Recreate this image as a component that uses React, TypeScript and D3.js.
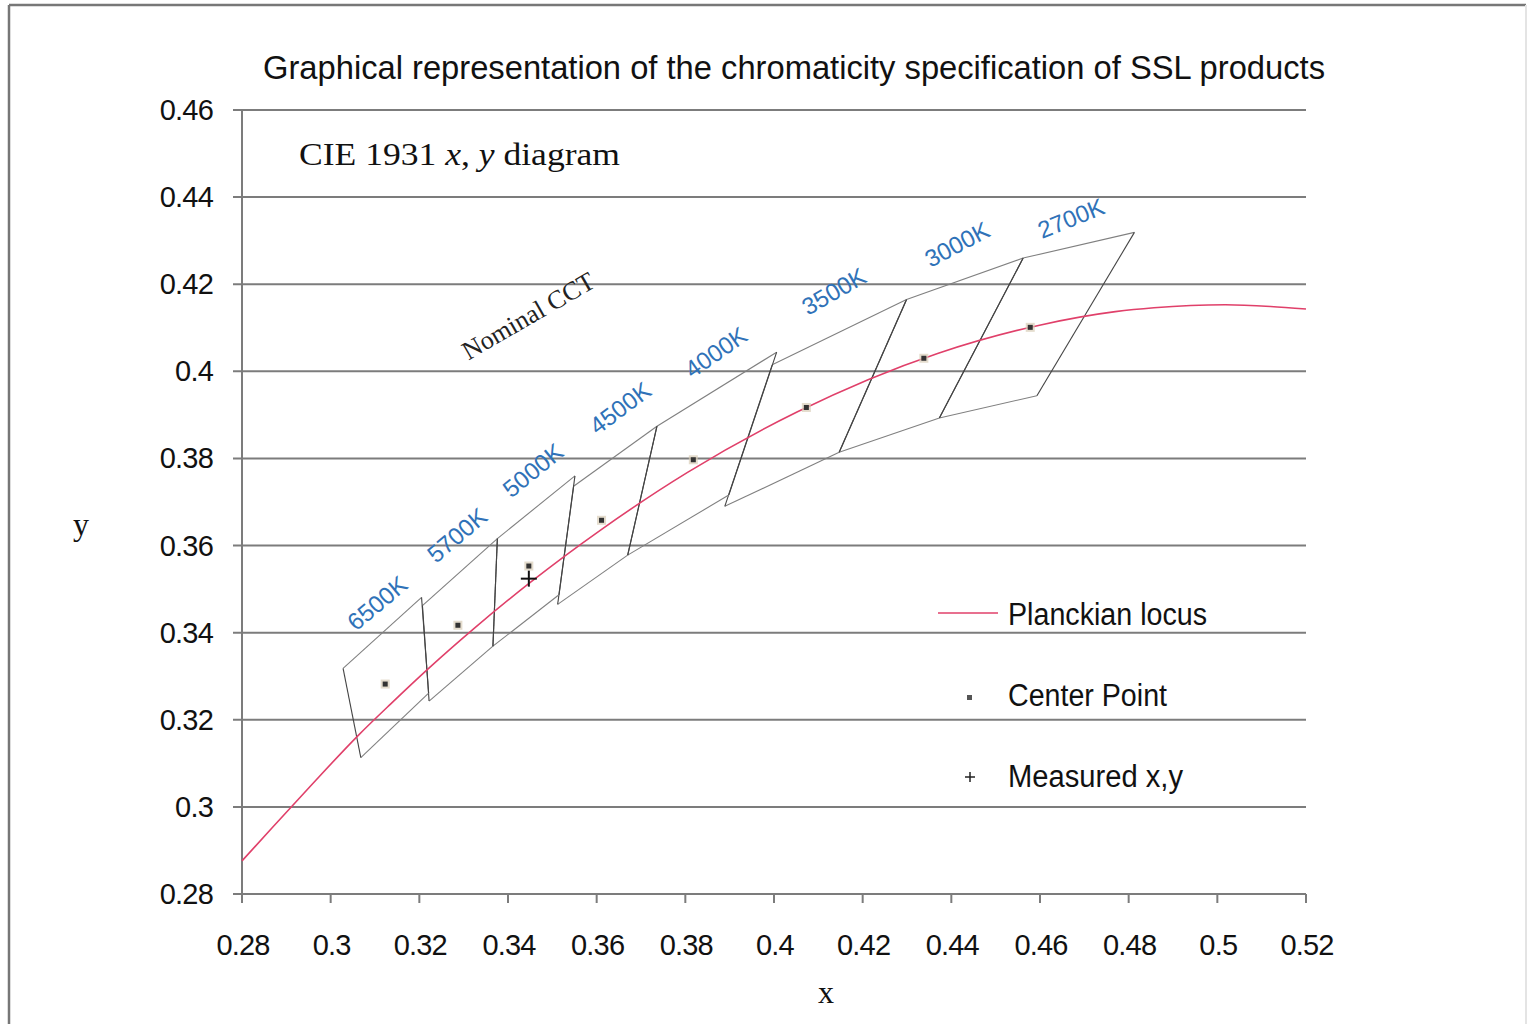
import React, { useEffect } from "react";
import * as d3 from "d3";

// ---- data ----
const xTicks = [0.28, 0.3, 0.32, 0.34, 0.36, 0.38, 0.4, 0.42, 0.44, 0.46, 0.48, 0.5, 0.52];
const yTicks = [0.28, 0.3, 0.32, 0.34, 0.36, 0.38, 0.4, 0.42, 0.44, 0.46];

// Planckian locus points (x, y)
const locusX = [0.28, 0.2867, 0.2951, 0.3064, 0.3135, 0.3221, 0.3325, 0.3451, 0.3608, 0.3805, 0.4053, 0.4369, 0.4599, 0.477, 0.4857, 0.5018, 0.512, 0.52];
const locusY = [0.2876, 0.2951, 0.3044, 0.3166, 0.3236, 0.3318, 0.3411, 0.3516, 0.3635, 0.3768, 0.3907, 0.4041, 0.4106, 0.4137, 0.4146, 0.4153, 0.4149, 0.4143];

// Nominal CCT quadrangles (corners: top-right, top-left, bottom-left, bottom-right)
const cctNames = ["2700K", "3000K", "3500K", "4000K", "4500K", "5000K", "5700K", "6500K"];
const quadX = [
  [0.4813, 0.4562, 0.4373, 0.4593],
  [0.4562, 0.4299, 0.4147, 0.4373],
  [0.4299, 0.3996, 0.3889, 0.4147],
  [0.4006, 0.3736, 0.367, 0.3898],
  [0.3736, 0.3548, 0.3512, 0.367],
  [0.3551, 0.3376, 0.3366, 0.3515],
  [0.3376, 0.3207, 0.3222, 0.3366],
  [0.3205, 0.3028, 0.3068, 0.3221],
];
const quadY = [
  [0.4319, 0.426, 0.3893, 0.3944],
  [0.426, 0.4165, 0.3814, 0.3893],
  [0.4165, 0.4015, 0.369, 0.3814],
  [0.4044, 0.3874, 0.3578, 0.3716],
  [0.3874, 0.3736, 0.3465, 0.3578],
  [0.376, 0.3616, 0.3369, 0.3487],
  [0.3616, 0.3462, 0.3243, 0.3369],
  [0.3481, 0.3318, 0.3113, 0.3261],
];
const centerX = [0.4578, 0.4338, 0.4073, 0.3818, 0.3611, 0.3447, 0.3287, 0.3123];
const centerY = [0.4101, 0.403, 0.3917, 0.3797, 0.3658, 0.3553, 0.3417, 0.3282];

const measuredX = [0.3447];
const measuredY = [0.3524];

// label annotations (data coords + rotation)
const cctLabelX = [0.467, 0.4413, 0.4135, 0.3869, 0.3653, 0.3456, 0.3285, 0.3105];
const cctLabelY = [0.4352, 0.4292, 0.4184, 0.4044, 0.3916, 0.3773, 0.3624, 0.3468];
const cctLabelAngle = [-22, -28, -30, -35, -37, -39, -40, -40];

const SANS = "'Liberation Sans', Arial, Helvetica, sans-serif";
const SERIF = "'Liberation Serif', 'Times New Roman', serif";

export default function App() {
  useEffect(() => {
    document.body.style.margin = "0";
    document.body.style.background = "#fff";
  }, []);

  const W = 1532;
  const H = 1024;
  const x = d3.scaleLinear().domain([0.28, 0.52]).range([242, 1306]);
  const y = d3.scaleLinear().domain([0.28, 0.46]).range([894, 110]);

  const locus = locusX.map((v, i) => [v, locusY[i]] as [number, number]);
  const line = d3
    .line<[number, number]>()
    .x((d) => x(d[0]))
    .y((d) => y(d[1]))
    .curve(d3.curveMonotoneX);

  const gridColor = "#7c7c7c";

  return (
    <svg width={W} height={H} style={{ display: "block" }} xmlns="http://www.w3.org/2000/svg">
      <rect x={0} y={0} width={W} height={H} fill="#fff" />
      {/* outer frame */}
      <line x1={9} y1={5} x2={1526} y2={5} stroke="#777" strokeWidth={2.5} />
      <line x1={9} y1={5} x2={9} y2={1024} stroke="#777" strokeWidth={2.5} />
      <line x1={1526} y1={5} x2={1526} y2={1024} stroke="#e4e4e4" strokeWidth={2} />

      {/* title */}
      <text
        x={263}
        y={79}
        fontFamily={SANS}
        fontSize={33}
        fill="#111"
        textLength={1062}
        lengthAdjust="spacingAndGlyphs"
      >
        Graphical representation of the chromaticity specification of SSL products
      </text>

      {/* gridlines */}
      {yTicks.map((t) => (
        <line
          key={"g" + t}
          x1={233}
          x2={1306}
          y1={y(t)}
          y2={y(t)}
          stroke={gridColor}
          strokeWidth={2}
        />
      ))}
      {/* y axis */}
      <line x1={242} x2={242} y1={y(0.46)} y2={y(0.28)} stroke={gridColor} strokeWidth={2} />
      {/* x ticks */}
      {xTicks.map((t) => (
        <line key={"xt" + t} x1={x(t)} x2={x(t)} y1={y(0.28)} y2={y(0.28) + 9} stroke={gridColor} strokeWidth={2} />
      ))}
      {/* y tick labels */}
      {yTicks.map((t) => (
        <text
          key={"yl" + t}
          x={213}
          y={y(t) + 10}
          textAnchor="end"
          fontFamily={SANS}
          fontSize={29}
          letterSpacing={-0.8}
          fill="#111"
        >
          {String(t)}
        </text>
      ))}
      {/* x tick labels */}
      {xTicks.map((t) => (
        <text
          key={"xl" + t}
          x={x(t) + 1}
          y={955}
          textAnchor="middle"
          fontFamily={SANS}
          fontSize={29}
          letterSpacing={-0.8}
          fill="#111"
        >
          {String(t)}
        </text>
      ))}
      {/* axis titles */}
      <text x={826} y={1003} textAnchor="middle" fontFamily={SERIF} fontSize={32} fill="#111">
        x
      </text>
      <text x={81} y={535} textAnchor="middle" fontFamily={SERIF} fontSize={32} fill="#111">
        y
      </text>

      {/* diagram label */}
      <text x={299} y={165} fontFamily={SERIF} fontSize={31} fill="#111" textLength={321} lengthAdjust="spacingAndGlyphs">
        CIE 1931 <tspan fontStyle="italic">x</tspan>, <tspan fontStyle="italic">y</tspan> diagram
      </text>

      {/* quadrangles */}
      {quadX.map((qx, i) => {
        const p = qx.map((v, j) => [x(v), y(quadY[i][j])]);
        return (
          <g key={"q" + i} fill="none" strokeWidth={1.1}>
            <line x1={p[0][0]} y1={p[0][1]} x2={p[1][0]} y2={p[1][1]} stroke="#808080" />
            <line x1={p[2][0]} y1={p[2][1]} x2={p[3][0]} y2={p[3][1]} stroke="#808080" />
            <line x1={p[1][0]} y1={p[1][1]} x2={p[2][0]} y2={p[2][1]} stroke="#444" />
            <line x1={p[3][0]} y1={p[3][1]} x2={p[0][0]} y2={p[0][1]} stroke="#444" />
          </g>
        );
      })}

      {/* Planckian locus */}
      <path d={line(locus) || ""} fill="none" stroke="#e0406a" strokeWidth={1.6} />

      {/* center points */}
      {centerX.map((v, i) => (
        <g key={"c" + i}>
          <rect x={x(v) - 4.5} y={y(centerY[i]) - 4.5} width={9} height={9} fill="#d8cdb8" opacity={0.7} />
          <rect x={x(v) - 2.5} y={y(centerY[i]) - 2.5} width={5} height={5} fill="#333" />
        </g>
      ))}

      {/* measured */}
      {measuredX.map((v, i) => (
        <g key={"m" + i} stroke="#111" strokeWidth={2}>
          <line x1={x(v) - 8} x2={x(v) + 8} y1={y(measuredY[i])} y2={y(measuredY[i])} />
          <line x1={x(v)} x2={x(v)} y1={y(measuredY[i]) - 8} y2={y(measuredY[i]) + 8} />
        </g>
      ))}

      {/* CCT labels */}
      {cctNames.map((n, i) => {
        const px = x(cctLabelX[i]);
        const py = y(cctLabelY[i]);
        return (
          <text
            key={"l" + n}
            x={px}
            y={py}
            transform={`rotate(${cctLabelAngle[i]},${px},${py})`}
            textAnchor="middle"
            dominantBaseline="central"
            fontFamily={SANS}
            fontSize={24}
            fill="#2f72b8"
          >
            {n}
          </text>
        );
      })}

      {/* Nominal CCT */}
      <text
        x={x(0.3446)}
        y={y(0.4127)}
        transform={`rotate(-30,${x(0.3446)},${y(0.4127)})`}
        textAnchor="middle"
        dominantBaseline="central"
        fontFamily={SERIF}
        fontSize={26}
        fill="#222"
      >
        Nominal CCT
      </text>

      {/* legend */}
      <line x1={938} x2={998} y1={613} y2={613} stroke="#e0406a" strokeWidth={1.6} />
      <text x={1008} y={625} fontFamily={SANS} fontSize={31} fill="#111" textLength={199} lengthAdjust="spacingAndGlyphs">
        Planckian locus
      </text>
      <rect x={967} y={695} width={5} height={5} fill="#555" />
      <text x={1008} y={706} fontFamily={SANS} fontSize={31} fill="#111" textLength={159} lengthAdjust="spacingAndGlyphs">
        Center Point
      </text>
      <g stroke="#222" strokeWidth={1.5}>
        <line x1={965} x2={975} y1={777} y2={777} />
        <line x1={970} x2={970} y1={772} y2={782} />
      </g>
      <text x={1008} y={787} fontFamily={SANS} fontSize={31} fill="#111" textLength={175} lengthAdjust="spacingAndGlyphs">
        Measured x,y
      </text>
    </svg>
  );
}
